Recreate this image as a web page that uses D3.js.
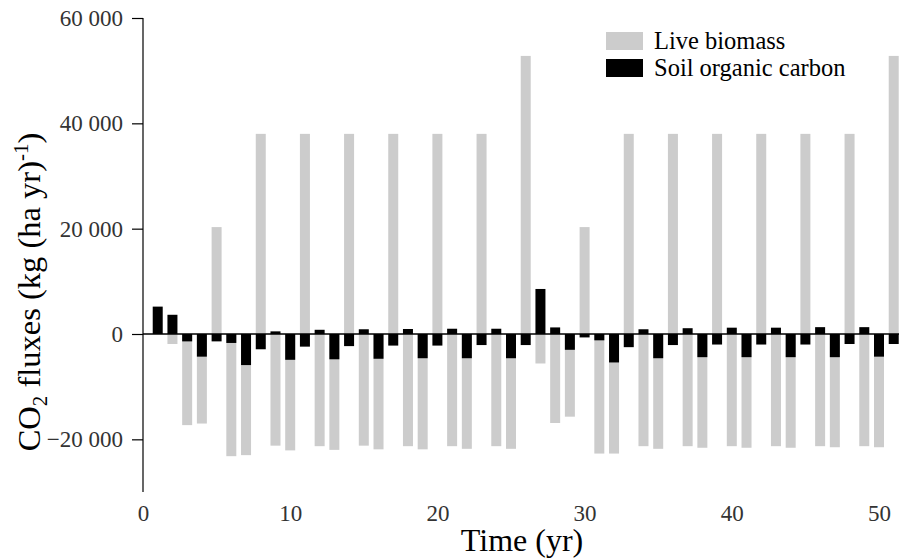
<!DOCTYPE html>
<html>
<head>
<meta charset="utf-8">
<script src="https://cdn.jsdelivr.net/npm/d3@7"></script>
<style>
  html, body { margin: 0; padding: 0; background: #fff; }
  svg { display: block; font-family: "Liberation Serif", "Times New Roman", serif; }
</style>
</head>
<body>
<svg id="chart" width="899" height="559"></svg>
<script>
// Annual CO2 fluxes per hectare over a 51-year rotation
const years = d3.range(1, 52);

const liveBiomass = [
  0, -1900, -17300, -17000, 20300, -23200, -23000, 38000, -21200, -22100,
  38000, -21300, -22000, 38000, -21200, -21900, 38000, -21300, -21900, 38000,
  -21300, -21800, 38000, -21300, -21800, 52800, -5600, -16900, -15700, 20300,
  -22700, -22700, 38000, -21300, -21800, 38000, -21300, -21600, 38000, -21300,
  -21600, 38000, -21300, -21600, 38000, -21300, -21500, 38000, -21300, -21500,
  52800
];

const soilCarbon = [
  5200, 3650, -1400, -4300, -1400, -1700, -5900, -2900, 500, -4900,
  -2400, 800, -4800, -2300, 900, -4700, -2200, 950, -4600, -2200,
  1000, -4600, -2100, 1000, -4600, -2100, 8550, 1250, -3000, -650,
  -1200, -5400, -2500, 900, -4600, -2100, 1100, -4400, -2000, 1200,
  -4400, -2000, 1200, -4400, -2000, 1300, -4400, -1900, 1300, -4300,
  -1900
];

const seriesNames = ["Live biomass", "Soil organic carbon"];
const yTicks = [-20000, 0, 20000, 40000, 60000];
const xTicks = [0, 10, 20, 30, 40, 50];

const svg = d3.select("#chart");

const x = d3.scaleLinear().domain([0, 50]).range([143, 879]);
const y = d3.scaleLinear().domain([-30000, 60000]).range([492, 18]);
const barW = 10;

const locale = d3.formatLocale({ decimal: ".", thousands: " ", grouping: [3], currency: ["", ""], minus: "\u2212" });
const fmt = locale.format(",d");

// live biomass bars
svg.append("g").selectAll("rect")
  .data(years.map((yr, i) => ({ yr, v: liveBiomass[i] })))
  .join("rect")
  .attr("x", d => x(d.yr) - barW / 2)
  .attr("width", barW)
  .attr("y", d => y(Math.max(0, d.v)))
  .attr("height", d => Math.abs(y(d.v) - y(0)))
  .attr("fill", "#cccccc");

// soil organic carbon bars drawn on top
svg.append("g").selectAll("rect")
  .data(years.map((yr, i) => ({ yr, v: soilCarbon[i] })))
  .join("rect")
  .attr("x", d => x(d.yr) - barW / 2)
  .attr("width", barW)
  .attr("y", d => y(Math.max(0, d.v)))
  .attr("height", d => Math.abs(y(d.v) - y(0)))
  .attr("fill", "#000");

// zero reference line
svg.append("line")
  .attr("x1", x(0)).attr("x2", 899)
  .attr("y1", y(0)).attr("y2", y(0))
  .attr("stroke", "#000").attr("stroke-width", 1.5);

// y axis
const yAxis = d3.axisLeft(y)
  .tickValues(yTicks)
  .tickFormat(fmt)
  .tickSize(11)
  .tickPadding(9);
const gy = svg.append("g").attr("transform", `translate(${x(0)},0)`).call(yAxis);
gy.attr("font-family", null);
gy.select(".domain").attr("d", `M0,${y(-30000)}V${y(60000)}`).attr("stroke", "#000").attr("stroke-width", 1.2);
gy.selectAll(".tick line").attr("stroke", "#000").attr("stroke-width", 1.2);
gy.selectAll(".tick text")
  .attr("font-size", 23)
  .attr("fill", "#333");

// x axis: labels only
const xAxis = d3.axisBottom(x).tickValues(xTicks).tickSize(0).tickPadding(0);
const gx = svg.append("g").attr("transform", `translate(0,505)`).call(xAxis);
gx.attr("font-family", null);
gx.select(".domain").remove();
gx.selectAll(".tick text")
  .attr("font-size", 23)
  .attr("fill", "#333");

// axis titles
svg.append("text")
  .attr("x", 522).attr("y", 551)
  .attr("text-anchor", "middle")
  .attr("font-size", 32)
  .attr("fill", "#000")
  .text("Time (yr)");

const yt = svg.append("text")
  .attr("transform", "translate(40,292) rotate(-90)")
  .attr("text-anchor", "middle")
  .attr("font-size", 32.5)
  .attr("fill", "#000");
yt.append("tspan").text("CO");
yt.append("tspan").attr("font-size", 21).attr("dy", 7).text("2");
yt.append("tspan").attr("dy", -7).text(" fluxes (kg (ha yr)");
yt.append("tspan").attr("font-size", 21).attr("dy", -12).text("-1");
yt.append("tspan").attr("dy", 12).text(")");

// legend
const legendColors = ["#cccccc", "#000"];
const lg = svg.append("g").attr("transform", "translate(606,32)");
seriesNames.forEach((name, i) => {
  const row = lg.append("g").attr("transform", `translate(0,${i * 27})`);
  row.append("rect").attr("width", 37).attr("height", 18).attr("fill", legendColors[i]);
  row.append("text").attr("x", 48).attr("y", 17)
    .attr("font-size", 24.5).attr("fill", "#000").text(name);
});
</script>
</body>
</html>
